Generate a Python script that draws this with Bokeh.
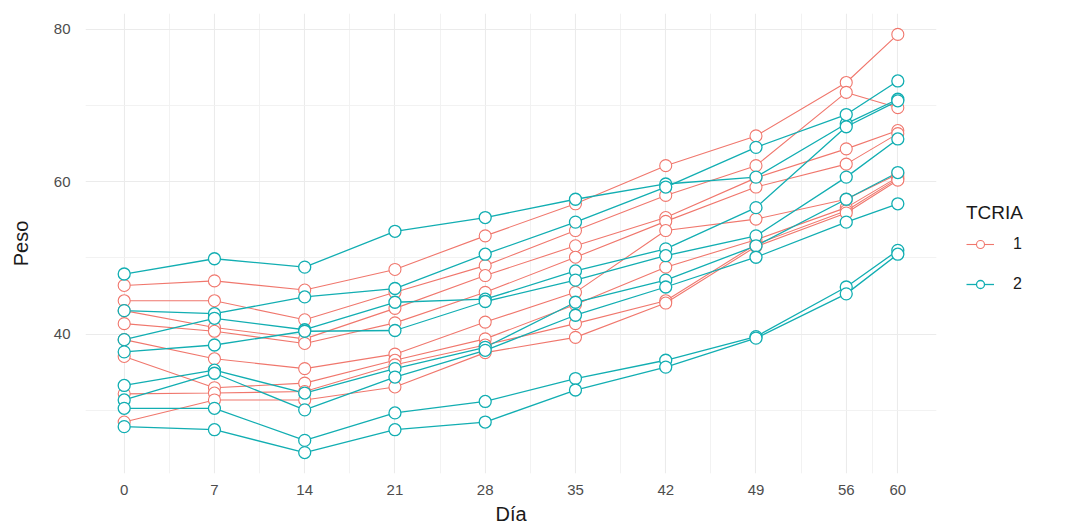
from bokeh.plotting import figure
from bokeh.models import ColumnDataSource, FixedTicker, Legend, LegendItem, Range1d
from bokeh.embed import file_html
from bokeh.resources import INLINE

# ---- data ----
dias = [0, 7, 14, 21, 28, 35, 42, 49, 56, 60]
dia_ticks = [0, 7, 14, 21, 28, 35, 42, 49, 56, 60]
dia_minor = [3.5, 10.5, 17.5, 24.5, 31.5, 38.5, 45.5, 52.5, 58]
peso_ticks = [40, 60, 80]
peso_minor = [30, 50, 70]
grupos = ["1", "2"]

# TCRIA 1
r1 = [46.4, 47.0, 45.8, 48.5, 52.9, 57.1, 62.1, 66.0, 73.0, 79.3]
r2 = [44.4, 44.4, 41.9, 45.5, 49.0, 53.6, 58.2, 62.1, 71.7, 69.7]
r3 = [43.1, 40.9, 39.4, 43.4, 47.7, 51.6, 55.3, 60.5, 64.3, 66.7]
r4 = [41.4, 40.4, 38.8, 41.5, 45.5, 50.1, 54.8, 59.3, 62.3, 66.3]
r5 = [39.3, 36.8, 35.5, 37.4, 41.6, 45.5, 53.6, 55.1, 57.7, 61.0]
r6 = [37.1, 33.0, 33.6, 36.6, 39.4, 43.9, 48.8, 52.4, 56.6, 60.6]
r7 = [32.2, 32.3, 32.5, 36.0, 38.6, 41.4, 44.4, 51.8, 56.2, 60.4]
r8 = [28.5, 31.4, 31.4, 33.1, 37.6, 39.6, 44.1, 51.5, 55.9, 60.2]

# TCRIA 2
t1 = [47.9, 49.9, 48.8, 53.5, 55.3, 57.7, 59.7, 60.6, 67.6, 70.8]
t2 = [43.1, 42.7, 44.9, 46.0, 50.5, 54.7, 59.3, 64.5, 68.8, 73.2]
t3 = [39.3, 42.1, 40.6, 44.2, 44.6, 48.3, 51.2, 56.6, 67.2, 70.6]
t4 = [37.7, 38.6, 40.4, 40.5, 44.3, 47.1, 50.3, 52.9, 60.6, 65.6]
t5 = [33.3, 35.3, 32.3, 35.5, 38.3, 44.2, 47.1, 51.6, 57.7, 61.2]
t6 = [31.4, 34.9, 30.1, 34.4, 37.9, 42.5, 46.2, 50.1, 54.7, 57.1]
t7 = [30.3, 30.3, 26.1, 29.7, 31.2, 34.2, 36.6, 39.7, 46.2, 51.0]
t8 = [27.9, 27.5, 24.5, 27.5, 28.5, 32.7, 35.7, 39.5, 45.3, 50.5]

grupo1 = [r1, r2, r3, r4, r5, r6, r7, r8]
grupo2 = [t1, t2, t3, t4, t5, t6, t7, t8]

RED = "#F0776D"
TEAL = "#12AEB2"
FONT = "Liberation Sans"

allv = [v for s in grupo1 + grupo2 for v in s]
vmin, vmax = min(allv), max(allv)
pad_y = (vmax - vmin) * 0.05
pad_x = (max(dias) - min(dias)) * 0.05

p = figure(
    width=1068, height=532,
    frame_width=851, frame_height=460,
    min_border_left=85, min_border_right=132, min_border_top=13, min_border_bottom=59,
    x_range=Range1d(min(dias) - pad_x, max(dias) + pad_x),
    y_range=Range1d(vmin - pad_y, vmax + pad_y),
    output_backend="svg", toolbar_location=None,
)
p.outline_line_color = None
p.background_fill_color = "white"
p.border_fill_color = "white"

# axes
for ax in (p.xaxis[0], p.yaxis[0]):
    ax.axis_line_color = None
    ax.major_tick_line_color = None
    ax.minor_tick_line_color = None
    ax.major_tick_out = 0
    ax.major_tick_in = 0
    ax.minor_tick_out = 0
    ax.minor_tick_in = 0
    ax.major_label_text_font = FONT
    ax.major_label_text_font_size = "15px"
    ax.major_label_text_color = "#4D4D4D"
    ax.axis_label_text_font = FONT
    ax.axis_label_text_font_size = "20px"
    ax.axis_label_text_font_style = "normal"
    ax.axis_label_text_color = "#1a1a1a"

p.xaxis.ticker = FixedTicker(ticks=dia_ticks, minor_ticks=dia_minor)
p.yaxis.ticker = FixedTicker(ticks=peso_ticks, minor_ticks=peso_minor)
p.xaxis.axis_label = "Día"
p.yaxis.axis_label = "Peso"
p.xaxis.major_label_standoff = 11
p.xaxis.axis_label_standoff = 5
p.yaxis.major_label_standoff = 15
p.yaxis.axis_label_standoff = 19

for g in (p.xgrid[0], p.ygrid[0]):
    g.grid_line_color = "#EBEBEB"
    g.grid_line_width = 1.1
    g.minor_grid_line_color = "#F0F0F0"
    g.minor_grid_line_width = 0.9

# lines
src_l1 = ColumnDataSource(dict(xs=[dias] * len(grupo1), ys=grupo1))
src_l2 = ColumnDataSource(dict(xs=[dias] * len(grupo2), ys=grupo2))
l1 = p.multi_line("xs", "ys", source=src_l1, line_color=RED, line_width=1.1)
l2 = p.multi_line("xs", "ys", source=src_l2, line_color=TEAL, line_width=1.3)

# points
src_p1 = ColumnDataSource(dict(x=[d for s in grupo1 for d in dias], y=[v for s in grupo1 for v in s]))
src_p2 = ColumnDataSource(dict(x=[d for s in grupo2 for d in dias], y=[v for s in grupo2 for v in s]))
c1 = p.scatter("x", "y", source=src_p1, marker="circle", size=12, fill_color="white",
               line_color=RED, line_width=1.1)
c2 = p.scatter("x", "y", source=src_p2, marker="circle", size=12, fill_color="white",
               line_color=TEAL, line_width=1.3)

legend = Legend(items=[LegendItem(label=grupos[0], renderers=[l1, c1]),
                       LegendItem(label=grupos[1], renderers=[l2, c2])],
                location=(30, 179))
legend.title = "TCRIA"
legend.title_text_font = FONT
legend.title_text_font_size = "19px"
legend.title_text_font_style = "normal"
legend.title_text_color = "#1a1a1a"
legend.title_standoff = 10
legend.label_text_font = FONT
legend.label_text_font_size = "16px"
legend.label_text_color = "#1a1a1a"
legend.glyph_width = 28
legend.glyph_height = 20
legend.spacing = 20
legend.label_standoff = 19
legend.padding = 0
legend.margin = 0
legend.border_line_color = None
legend.background_fill_alpha = 0
p.add_layout(legend, "right")

open("out.html", "w").write(file_html(p, INLINE))
